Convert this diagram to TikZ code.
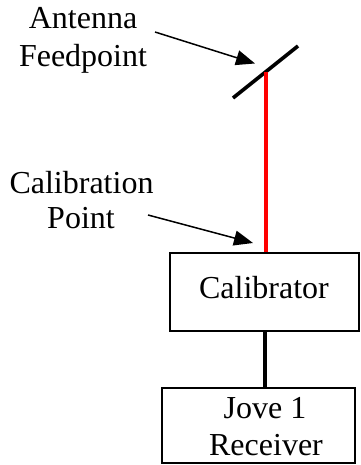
\documentclass[tikz,border=0pt]{standalone}
\usepackage{fontspec}
\setmainfont{Liberation Serif}
\usetikzlibrary{arrows.meta}
\begin{document}
\begin{tikzpicture}[x=1pt,y=-1pt,
  lbl/.style={anchor=base,inner sep=0pt,font=\fontsize{32}{37}\selectfont},
  boxnode/.style={draw,line width=1.6pt,inner sep=0pt},
  pointer/.style={line width=1.5pt,-{Triangle[length=19pt,width=15pt]}},
  thick line/.style={line width=3.6pt}]
\useasboundingbox (0,0) rectangle (360,465);
% dipole
\coordinate (d1) at (233,98);
\coordinate (d2) at (298,46);
\coordinate (feed) at (266,71.6);
\draw[thick line] (d1) -- (d2);
% boxes
\node[boxnode,minimum width=189pt,minimum height=78pt] (cal) at (264.5,292) {};
\node[boxnode,minimum width=193pt,minimum height=75pt] (rec) at (258.5,425.5) {};
% cables
\draw[thick line,red] (feed) -- (feed |- cal.north);
\draw[thick line] (cal.south -| 265,0) -- (rec.north -| 265,0);
% labels
\node[lbl] (t1) at (83,29) {Antenna};
\node[lbl] (t2) at (83,67) {Feedpoint};
\node[lbl] (t3) at (81.5,193) {Calibration};
\node[lbl] (t4) at (81,228) {Point};
\node[lbl] (t5) at (264,298) {Calibrator};
\node[lbl] (t6) at (265,418) {Jove 1};
\node[lbl] (t7) at (266,455) {Receiver};
% pointers
\coordinate (a1s) at (155,32);
\coordinate (a1e) at (255,63.5);
\coordinate (a2s) at (148,215);
\coordinate (a2e) at (253,243);
\draw[pointer] (a1s) -- (a1e);
\draw[pointer] (a2s) -- (a2e);
\end{tikzpicture}
\end{document}
